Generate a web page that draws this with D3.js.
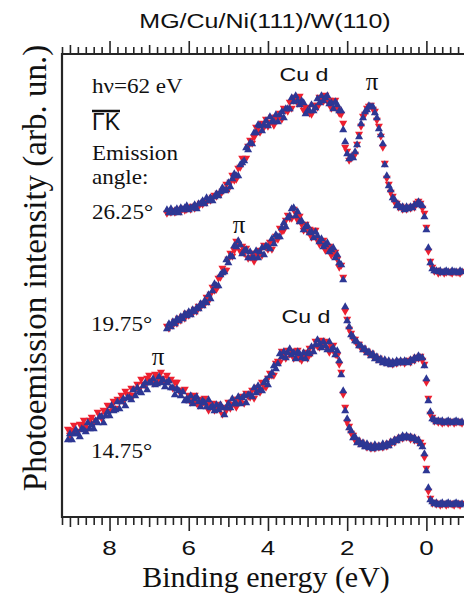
<!DOCTYPE html>
<html>
<head>
<meta charset="utf-8">
<script src="https://cdn.jsdelivr.net/npm/d3@7"></script>
<style>
  html, body { margin: 0; padding: 0; background: #fff; }
  svg { display: block; }
</style>
</head>
<body>
<script>
// ARPES spectra, MG/Cu/Ni(111)/W(110), hv = 62 eV, along Gamma-K.
// Energy grids: uniform 0.05 eV steps, starting at the given binding energy.
const STEP = 0.05;
const angles = ["26.25°", "19.75°", "14.75°"];
const startEnergy = [6.55, 6.55, 9.05];

// Intensities (arb. un., stacked with vertical offsets), two measurements per angle
const topRed = [304,306,305,307,305,306,308,306,309,307,308,310,308,311,309,312,311,314,313,316,315,318,317,320,322,321,324,323,326,328,
  333,328,335,342,337,338,349,350,359,358,359,371,377,374,380,390,389,385,394,390,398,391,395,400,392,400,398,404,398,409,
  407,406,415,409,417,420,414,421,413,407,410,409,404,403,412,412,410,420,418,416,422,416,417,409,416,417,408,404,403,394,370,
  366,357,359,361,363,373,383,391,401,403,409,411,412,408,406,397,391,381,370,354,339,333,325,321,315,314,310,311,308,
  310,308,310,309,311,310,314,316,314,309,304,290,266,256,250,246,247,244,245,246,244,245,246,245,244,246,245,245,244,246];
const topBlue = [307,304,308,304,306,308,304,309,307,309,311,307,309,309,312,308,313,313,316,313,319,316,319,316,320,323,321,325,329,326,
  327,334,330,338,343,341,341,352,354,356,369,367,374,373,384,384,392,391,386,392,396,391,400,395,395,402,395,402,405,399,
  408,408,408,419,415,421,416,412,416,414,403,406,406,412,406,409,418,414,421,416,419,421,413,414,408,415,412,406,406,387,375,
  363,358,360,359,365,372,380,393,399,405,407,411,410,410,404,399,388,382,373,352,341,331,327,319,317,311,312,309,310,
  307,310,308,310,309,312,312,315,313,311,300,287,269,254,248,246,246,245,246,244,245,246,245,244,246,245,245,244,246,245];

const midRed = [191,189,193,192,196,194,199,197,201,199,204,202,205,204,208,206,211,210,214,213,
  220,216,223,230,227,228,239,240,249,247,247,258,264,261,267,276,273,266,271,264,269,259,260,264,256,264,262,267,262,272,
  270,268,275,268,275,281,278,289,286,287,297,302,299,299,308,304,297,301,293,287,293,286,288,280,287,287,277,273,275,277,
  267,268,271,262,265,265,258,250,252,240,
  206,198,188,184,178,178,173,173,169,169,166,166,163,164,161,161,158,159,156,157,155,156,154,155,153,155,154,156,155,156,
  154,156,157,155,158,157,160,159,161,157,153,135,119,103,100,96,97,95,96,94,95,96,94,95,96,94,95,96,95,94];
const midBlue = [188,193,190,195,193,198,196,200,198,203,201,205,202,207,205,209,208,213,211,216,
  214,222,218,226,233,231,231,242,244,245,257,254,261,260,271,270,276,272,263,266,267,259,265,259,259,266,259,265,269,262,
  271,270,268,278,273,282,280,280,289,294,290,299,301,308,309,301,305,295,296,287,290,291,284,285,279,285,281,275,278,270,
  272,274,265,267,269,259,262,254,252,237,
  210,196,190,182,180,176,175,171,171,167,168,164,165,161,163,158,160,156,158,154,157,153,156,152,155,153,156,154,156,154,
  156,155,154,157,156,159,158,161,159,159,151,138,116,105,98,97,95,96,95,96,94,95,96,95,94,95,96,95,94,95];

const botRed = [88,82,87,92,86,85,93,91,97,92,89,97,100,94,97,105,102,99,107,104,112,106,111,116,109,118,116,122,116,126,
  123,122,129,122,128,133,128,138,133,132,139,142,137,134,143,141,137,145,139,135,142,136,138,129,135,135,127,124,127,128,
  118,122,115,118,122,114,112,118,114,119,112,107,113,114,107,108,113,109,103,110,107,115,109,113,118,110,118,116,121,114,
  124,121,120,127,119,126,130,125,135,131,130,139,144,142,142,154,156,155,166,162,159,167,163,166,159,166,167,159,157,161,
  165,159,169,164,170,176,171,170,177,173,176,169,165,171,172,163,162,153,145,123,
  110,95,91,84,82,77,77,74,75,72,73,70,72,69,71,69,71,70,72,70,72,71,74,73,76,75,78,78,80,79,
  81,80,81,78,80,77,78,75,75,72,60,49,26,19,14,15,13,14,12,13,14,12,13,14,13,12,14,13,12,14];
const botBlue = [77,83,77,83,87,83,80,88,87,85,94,88,92,88,96,94,100,100,94,101,105,101,111,106,107,115,108,115,118,111,
  119,119,117,127,121,129,125,124,131,134,127,134,134,138,132,133,140,134,137,130,134,136,129,129,122,128,126,121,125,116,
  118,116,121,113,118,120,115,110,116,114,110,117,109,111,106,112,107,112,109,102,109,113,109,118,113,113,120,113,119,121,
  114,122,122,120,129,124,131,127,126,134,137,132,141,144,151,148,153,163,160,165,159,164,168,162,164,158,165,163,159,164,
  158,164,163,170,165,172,177,173,169,175,171,167,175,167,169,162,166,156,142,126,
  106,98,89,86,79,80,74,76,72,74,70,73,69,71,68,72,69,71,69,73,70,73,71,75,74,77,76,79,78,81,
  79,81,79,80,78,79,76,77,73,70,63,46,29,17,15,13,14,12,13,14,12,13,14,13,12,13,14,13,12,13];

const redSeries = [topRed, midRed, botRed];
const blueSeries = [topBlue, midBlue, botBlue];

const xLabels = [8, 6, 4, 2, 0];

const W = 464, H = 599;
const SANS = "'Liberation Sans', Arial, Helvetica, sans-serif";
const SERIF = "'Liberation Serif', 'Times New Roman', Times, serif";
const RED = "#ee2030";
const BLUE = "#2d3794";
const INK = "#262626";

const svg = d3.select("body").append("svg")
  .attr("width", W).attr("height", H)
  .attr("viewBox", `0 0 ${W} ${H}`);

const x = d3.scaleLinear().domain([9.2, -1.0]).range([62, 466]);
const y = d3.scaleLinear().domain([0, 463]).range([517, 54]);

const plotLeft = 62, plotRight = W, plotTop = 54, plotBottom = 517;

svg.append("defs").append("clipPath").attr("id", "plot")
  .append("rect").attr("x", plotLeft - 1).attr("y", plotTop - 20)
  .attr("width", plotRight - plotLeft + 1).attr("height", plotBottom - plotTop + 40);

// ---- tick marks (major every 2 eV, medium every 1 eV, minor every 0.2 eV)
const allTicks = d3.range(-5, 47).map(k => +(k * 0.2).toFixed(1));
const isInt = v => Math.abs(v - Math.round(v)) < 1e-6;
const minorT = allTicks.filter(v => !isInt(v));
const mediumT = allTicks.filter(v => isInt(v) && Math.round(v) % 2 !== 0);
const majorT = allTicks.filter(v => isInt(v) && Math.round(v) % 2 === 0);

const tickRoot = svg.append("g").attr("clip-path", "url(#plot)");
function tickLayer(axisFn, yPos, values, size) {
  const g = tickRoot.append("g")
    .attr("transform", `translate(0,${yPos})`)
    .call(axisFn(x).tickValues(values).tickSize(size).tickSizeOuter(0).tickFormat(""));
  g.select(".domain").remove();
  g.selectAll(".tick line").attr("stroke", INK).attr("stroke-width", 1.6);
}
tickLayer(d3.axisBottom, plotBottom, minorT, 8);
tickLayer(d3.axisBottom, plotBottom, mediumT, 10);
tickLayer(d3.axisBottom, plotBottom, majorT, 14);
tickLayer(d3.axisTop, plotTop, minorT, 7);
tickLayer(d3.axisTop, plotTop, mediumT, 9);
tickLayer(d3.axisTop, plotTop, majorT, 13);

// ---- frame
const frame = svg.append("g").attr("stroke", INK).attr("stroke-width", 2.2).attr("fill", "none");
frame.append("line").attr("x1", plotLeft).attr("x2", plotLeft).attr("y1", plotTop - 1).attr("y2", plotBottom + 1);
frame.append("line").attr("x1", plotLeft).attr("x2", plotRight).attr("y1", plotTop).attr("y2", plotTop);
frame.append("line").attr("x1", plotLeft).attr("x2", plotRight).attr("y1", plotBottom).attr("y2", plotBottom);

// ---- tick labels
svg.append("g").selectAll("text").data(xLabels).join("text")
  .attr("transform", d => `translate(${x(d)},555) scale(1.3,1)`)
  .attr("text-anchor", "middle")
  .attr("font-family", SANS).attr("font-size", 20).attr("fill", "#111")
  .text(d => d);

// ---- data markers
const tri = d3.symbol().type(d3.symbolTriangle).size(28)();
const plot = svg.append("g").attr("clip-path", "url(#plot)");
redSeries.forEach((vals, s) => {
  const g = plot.append("g");
  g.selectAll("path.r").data(vals).join("path").attr("class", "r")
    .attr("d", tri).attr("fill", RED)
    .attr("transform", (v, i) => `translate(${x(startEnergy[s] - STEP * i)},${y(v)}) rotate(180)`);
  g.selectAll("path.b").data(blueSeries[s]).join("path").attr("class", "b")
    .attr("d", tri).attr("fill", BLUE)
    .attr("transform", (v, i) => `translate(${x(startEnergy[s] - STEP * i)},${y(v)})`);
});

// ---- titles
svg.append("text")
  .attr("transform", "translate(265,28) scale(1.25,1)")
  .attr("text-anchor", "middle").attr("font-family", SANS).attr("font-size", 20).attr("fill", "#111")
  .text("MG/Cu/Ni(111)/W(110)");

svg.append("text")
  .attr("x", 266).attr("y", 587)
  .attr("text-anchor", "middle").attr("font-family", SERIF).attr("font-size", 30).attr("fill", "#111")
  .text("Binding energy (eV)");

svg.append("text")
  .attr("transform", "translate(46,268) rotate(-90)")
  .attr("text-anchor", "middle").attr("font-family", SERIF).attr("font-size", 33).attr("fill", "#111")
  .text("Photoemission intensity (arb. un.)");

// ---- annotations
function serifText(txt, tx, ty, size) {
  svg.append("text")
    .attr("transform", `translate(${tx},${ty}) scale(1.05,1)`)
    .attr("font-family", SERIF).attr("font-size", size).attr("fill", "#111")
    .text(txt);
}
serifText("hν=62 eV", 92, 93, 22);
serifText("Emission", 92, 160, 22);
serifText("angle:", 92, 184, 22);
serifText(angles[0], 92, 219, 22);
serifText(angles[1], 91, 331, 22);
serifText(angles[2], 91, 458, 22);

// Gamma-K direction with overline
svg.append("text")
  .attr("x", 92).attr("y", 130)
  .attr("font-family", SANS).attr("font-size", 23).attr("fill", "#111")
  .text("ΓK");
svg.append("line")
  .attr("x1", 92).attr("x2", 120).attr("y1", 111).attr("y2", 111)
  .attr("stroke", "#111").attr("stroke-width", 2.5);

function sansLabel(txt, cx, by) {
  svg.append("text")
    .attr("transform", `translate(${cx},${by}) scale(1.22,1)`)
    .attr("text-anchor", "middle").attr("font-family", SANS).attr("font-size", 19).attr("fill", "#111")
    .text(txt);
}
sansLabel("Cu d", 304, 81);
sansLabel("Cu d", 306, 323);

function piLabel(cx, by) {
  svg.append("text")
    .attr("x", cx).attr("y", by)
    .attr("text-anchor", "middle").attr("font-family", SERIF).attr("font-size", 25).attr("fill", "#111")
    .text("π");
}
piLabel(372, 90);
piLabel(239, 233);
piLabel(158, 365);
</script>
</body>
</html>
